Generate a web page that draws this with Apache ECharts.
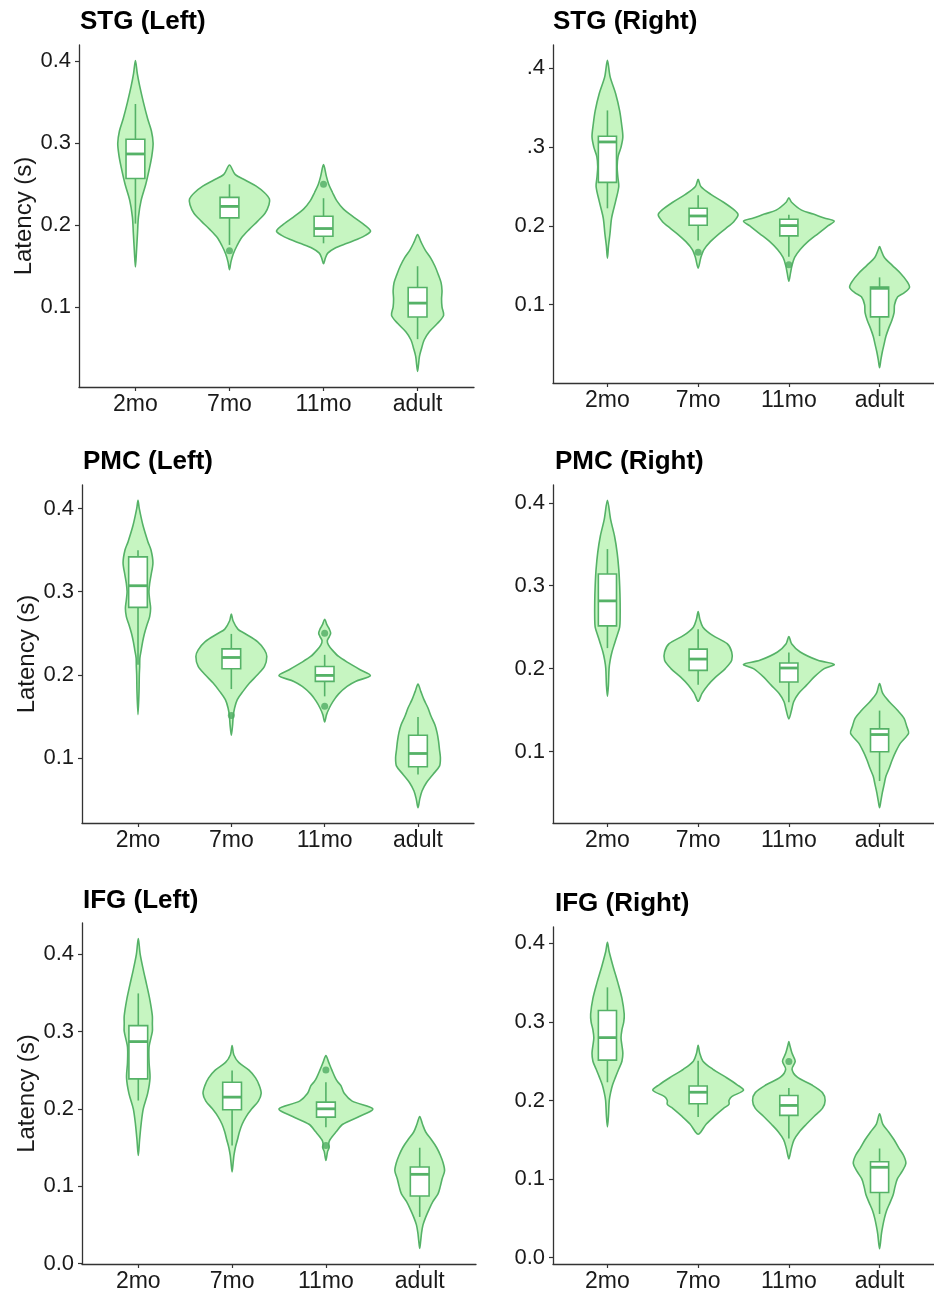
<!DOCTYPE html>
<html>
<head>
<meta charset="utf-8">
<script src="https://cdn.jsdelivr.net/npm/echarts@6/dist/echarts.min.js"></script>
<style>
html, body { margin: 0; padding: 0; background: #fff; }
#main { width: 934px; height: 1294px; }
</style>
</head>
<body>
<div id="main"></div>
<script>
// categories and panel titles
var groups = ['2mo', '7mo', '11mo', 'adult'];
var panelTitles = ['STG (Left)', 'STG (Right)', 'PMC (Left)', 'PMC (Right)', 'IFG (Left)', 'IFG (Right)'];

// y tick values / labels (the STG right panel has its leading zeros cut off)
var ticksA = [0.1, 0.2, 0.3, 0.4];
var ticksB = [0, 0.1, 0.2, 0.3, 0.4];
var labelsA = ['0.1', '0.2', '0.3', '0.4'];
var labelsStgRight = ['0.1', '0.2', '.3', '.4'];
var labelsB = ['0.0', '0.1', '0.2', '0.3', '0.4'];

// box stats per group: [lower whisker, q1, median, q3, upper whisker]
// violin outlines per group: [latency, half width in category units]
// outliers: [group index, latency]

var stgLeftBoxes = [
    [0.202, 0.257, 0.287, 0.305, 0.348],
    [0.176, 0.209, 0.223, 0.234, 0.250],
    [0.178, 0.1865, 0.196, 0.211, 0.233],
    [0.061, 0.088, 0.105, 0.124, 0.150]
];
var stgLeftOutliers = [[1, 0.169], [2, 0.250]];
var stgLeftViolins = [
    [[0.149, 0], [0.17, 0.012], [0.19, 0.022], [0.21, 0.032], [0.23, 0.06], [0.25, 0.11], [0.27, 0.15], [0.285, 0.175], [0.30, 0.188], [0.315, 0.17], [0.33, 0.13], [0.35, 0.085], [0.37, 0.045], [0.385, 0.02], [0.401, 0]],
    [[0.1457, 0], [0.155, 0.015], [0.165, 0.04], [0.175, 0.08], [0.185, 0.13], [0.195, 0.21], [0.205, 0.3], [0.215, 0.38], [0.225, 0.42], [0.232, 0.425], [0.24, 0.37], [0.248, 0.28], [0.255, 0.17], [0.262, 0.06], [0.2735, 0]],
    [[0.153, 0], [0.16, 0.02], [0.166, 0.045], [0.172, 0.12], [0.178, 0.25], [0.183, 0.36], [0.188, 0.45], [0.193, 0.5], [0.20, 0.44], [0.21, 0.32], [0.22, 0.21], [0.23, 0.14], [0.24, 0.095], [0.25, 0.055], [0.26, 0.03], [0.274, 0]],
    [[0.0216, 0], [0.03, 0.01], [0.04, 0.02], [0.05, 0.043], [0.06, 0.07], [0.07, 0.125], [0.08, 0.21], [0.09, 0.277], [0.10, 0.26], [0.11, 0.255], [0.12, 0.26], [0.13, 0.25], [0.14, 0.22], [0.15, 0.185], [0.16, 0.14], [0.17, 0.08], [0.18, 0.035], [0.1886, 0]]
];

var stgRightBoxes = [
    [0.2223, 0.2552, 0.3065, 0.3137, 0.3465],
    [0.1815, 0.2008, 0.2126, 0.2223, 0.239],
    [0.161, 0.1874, 0.2004, 0.2084, 0.214],
    [0.0602, 0.0846, 0.1208, 0.1225, 0.1347]
];
var stgRightOutliers = [[1, 0.1667], [2, 0.1507]];
var stgRightViolins = [
    [[0.159, 0], [0.175, 0.012], [0.19, 0.028], [0.21, 0.046], [0.232, 0.092], [0.25, 0.125], [0.262, 0.115], [0.275, 0.107], [0.288, 0.117], [0.30, 0.15], [0.313, 0.17], [0.33, 0.155], [0.346, 0.135], [0.368, 0.09], [0.389, 0.03], [0.41, 0]],
    [[0.1465, 0], [0.16, 0.03], [0.17, 0.064], [0.18, 0.135], [0.19, 0.23], [0.20, 0.34], [0.205, 0.39], [0.214, 0.44], [0.22, 0.40], [0.23, 0.28], [0.24, 0.14], [0.25, 0.03], [0.259, 0]],
    [[0.1297, 0], [0.14, 0.018], [0.15, 0.035], [0.16, 0.064], [0.17, 0.125], [0.18, 0.21], [0.19, 0.32], [0.20, 0.43], [0.206, 0.5], [0.21, 0.39], [0.215, 0.27], [0.22, 0.14], [0.23, 0.03], [0.2358, 0]],
    [[0.0202, 0], [0.03, 0.014], [0.04, 0.03], [0.05, 0.05], [0.06, 0.07], [0.07, 0.10], [0.08, 0.135], [0.09, 0.16], [0.10, 0.165], [0.11, 0.2], [0.115, 0.27], [0.122, 0.33], [0.13, 0.30], [0.14, 0.23], [0.15, 0.14], [0.16, 0.053], [0.17, 0.014], [0.1739, 0]]
];

var pmcLeftBoxes = [
    [0.212, 0.2812, 0.3072, 0.342, 0.350],
    [0.1828, 0.2072, 0.2208, 0.2312, 0.2492],
    [0.174, 0.192, 0.1992, 0.210, 0.224],
    [0.080, 0.0892, 0.1052, 0.1272, 0.1492]
];
var pmcLeftOutliers = [[1, 0.1508], [2, 0.250], [2, 0.162]];
var pmcLeftViolins = [
    [[0.152, 0], [0.18, 0.011], [0.20, 0.014], [0.21, 0.018], [0.22, 0.02], [0.23, 0.035], [0.24, 0.05], [0.25, 0.07], [0.26, 0.096], [0.27, 0.125], [0.28, 0.135], [0.29, 0.125], [0.30, 0.117], [0.31, 0.125], [0.32, 0.14], [0.335, 0.16], [0.35, 0.14], [0.36, 0.107], [0.38, 0.053], [0.40, 0.014], [0.41, 0]],
    [[0.1272, 0], [0.14, 0.014], [0.15, 0.02], [0.16, 0.035], [0.17, 0.064], [0.18, 0.125], [0.19, 0.195], [0.20, 0.28], [0.21, 0.355], [0.222, 0.38], [0.23, 0.355], [0.24, 0.28], [0.25, 0.14], [0.255, 0.07], [0.265, 0.018], [0.2732, 0]],
    [[0.1432, 0], [0.152, 0.02], [0.16, 0.05], [0.168, 0.09], [0.177, 0.15], [0.186, 0.24], [0.192, 0.33], [0.199, 0.49], [0.206, 0.38], [0.214, 0.26], [0.222, 0.15], [0.23, 0.08], [0.236, 0.04], [0.241, 0.028], [0.246, 0.05], [0.25, 0.064], [0.255, 0.05], [0.26, 0.025], [0.2668, 0]],
    [[0.04, 0], [0.05, 0.018], [0.06, 0.043], [0.07, 0.09], [0.08, 0.16], [0.09, 0.23], [0.10, 0.24], [0.11, 0.23], [0.12, 0.22], [0.13, 0.205], [0.14, 0.18], [0.15, 0.14], [0.16, 0.107], [0.17, 0.064], [0.18, 0.03], [0.1888, 0]]
];

var pmcRightBoxes = [
    [0.2247, 0.2516, 0.2817, 0.3142, 0.3442],
    [0.1806, 0.1978, 0.2115, 0.2235, 0.2476],
    [0.1593, 0.1838, 0.2007, 0.2067, 0.2195],
    [0.0643, 0.0996, 0.1204, 0.1272, 0.1493]
];
var pmcRightOutliers = [];
var pmcRightViolins = [
    [[0.1665, 0], [0.18, 0.011], [0.20, 0.018], [0.21, 0.03], [0.22, 0.05], [0.23, 0.078], [0.24, 0.107], [0.25, 0.135], [0.26, 0.14], [0.28, 0.14], [0.30, 0.135], [0.32, 0.125], [0.34, 0.107], [0.36, 0.078], [0.38, 0.035], [0.403, 0]],
    [[0.1605, 0], [0.17, 0.043], [0.18, 0.107], [0.19, 0.195], [0.20, 0.30], [0.21, 0.37], [0.22, 0.37], [0.23, 0.32], [0.24, 0.16], [0.25, 0.053], [0.26, 0.018], [0.2688, 0]],
    [[0.1393, 0], [0.15, 0.03], [0.16, 0.053], [0.17, 0.107], [0.18, 0.195], [0.19, 0.28], [0.20, 0.39], [0.205, 0.5], [0.21, 0.32], [0.22, 0.125], [0.23, 0.03], [0.2388, 0]],
    [[0.0322, 0], [0.04, 0.014], [0.05, 0.03], [0.06, 0.05], [0.07, 0.07], [0.08, 0.107], [0.09, 0.14], [0.10, 0.18], [0.11, 0.23], [0.122, 0.32], [0.13, 0.30], [0.14, 0.27], [0.15, 0.195], [0.16, 0.107], [0.17, 0.035], [0.1818, 0]]
];

var ifgLeftBoxes = [
    [0.2107, 0.2387, 0.2869, 0.3075, 0.3492],
    [0.1527, 0.1987, 0.2151, 0.2344, 0.2495],
    [0.1763, 0.1892, 0.200, 0.2086, 0.2344],
    [0.0602, 0.0873, 0.1153, 0.1247, 0.1497]
];
var ifgLeftOutliers = [[2, 0.2503], [2, 0.1527]];
var ifgLeftViolins = [
    [[0.1398, 0], [0.16, 0.014], [0.18, 0.03], [0.20, 0.053], [0.22, 0.10], [0.24, 0.125], [0.26, 0.115], [0.28, 0.115], [0.30, 0.15], [0.31, 0.15], [0.32, 0.15], [0.34, 0.125], [0.36, 0.09], [0.38, 0.053], [0.40, 0.02], [0.4202, 0]],
    [[0.1183, 0], [0.13, 0.011], [0.14, 0.02], [0.15, 0.035], [0.16, 0.057], [0.17, 0.078], [0.18, 0.107], [0.19, 0.15], [0.20, 0.21], [0.21, 0.28], [0.22, 0.31], [0.23, 0.29], [0.24, 0.25], [0.25, 0.18], [0.26, 0.07], [0.27, 0.018], [0.2817, 0]],
    [[0.1333, 0], [0.145, 0.018], [0.15, 0.035], [0.155, 0.03], [0.16, 0.043], [0.17, 0.107], [0.18, 0.18], [0.19, 0.355], [0.20, 0.5], [0.21, 0.28], [0.22, 0.195], [0.23, 0.16], [0.235, 0.125], [0.24, 0.10], [0.25, 0.064], [0.26, 0.03], [0.2688, 0]],
    [[0.0194, 0], [0.03, 0.011], [0.04, 0.02], [0.05, 0.035], [0.06, 0.064], [0.07, 0.10], [0.08, 0.14], [0.09, 0.195], [0.10, 0.22], [0.11, 0.24], [0.12, 0.265], [0.13, 0.25], [0.14, 0.22], [0.15, 0.18], [0.16, 0.125], [0.17, 0.064], [0.18, 0.03], [0.1901, 0]]
];

var ifgRightBoxes = [
    [0.2232, 0.2514, 0.280, 0.3145, 0.344],
    [0.179, 0.1958, 0.2105, 0.2185, 0.2505],
    [0.1516, 0.1811, 0.1937, 0.2063, 0.216],
    [0.0556, 0.0829, 0.115, 0.1221, 0.1389]
];
var ifgRightOutliers = [[2, 0.2497]];
var ifgRightViolins = [
    [[0.1663, 0], [0.18, 0.011], [0.20, 0.02], [0.21, 0.035], [0.22, 0.057], [0.23, 0.09], [0.24, 0.125], [0.25, 0.16], [0.26, 0.17], [0.27, 0.16], [0.28, 0.15], [0.29, 0.16], [0.30, 0.18], [0.31, 0.185], [0.33, 0.16], [0.35, 0.115], [0.37, 0.064], [0.39, 0.018], [0.4013, 0]],
    [[0.157, 0], [0.16, 0.03], [0.17, 0.09], [0.18, 0.18], [0.19, 0.28], [0.195, 0.34], [0.20, 0.34], [0.205, 0.37], [0.213, 0.5], [0.22, 0.43], [0.23, 0.30], [0.24, 0.16], [0.25, 0.053], [0.26, 0.018], [0.2703, 0]],
    [[0.1255, 0], [0.13, 0.011], [0.14, 0.03], [0.15, 0.057], [0.16, 0.115], [0.17, 0.195], [0.18, 0.28], [0.19, 0.37], [0.20, 0.40], [0.21, 0.37], [0.22, 0.25], [0.23, 0.09], [0.24, 0.035], [0.25, 0.07], [0.26, 0.035], [0.27, 0.011], [0.275, 0]],
    [[0.0114, 0], [0.02, 0.011], [0.03, 0.02], [0.04, 0.035], [0.05, 0.053], [0.06, 0.078], [0.07, 0.115], [0.08, 0.15], [0.09, 0.17], [0.10, 0.195], [0.11, 0.25], [0.12, 0.29], [0.13, 0.265], [0.14, 0.21], [0.15, 0.16], [0.16, 0.10], [0.17, 0.035], [0.1832, 0]]
];

var panels = [
    { violins: stgLeftViolins, boxes: stgLeftBoxes, outliers: stgLeftOutliers, ticks: ticksA, labels: labelsA },
    { violins: stgRightViolins, boxes: stgRightBoxes, outliers: stgRightOutliers, ticks: ticksA, labels: labelsStgRight },
    { violins: pmcLeftViolins, boxes: pmcLeftBoxes, outliers: pmcLeftOutliers, ticks: ticksA, labels: labelsA },
    { violins: pmcRightViolins, boxes: pmcRightBoxes, outliers: pmcRightOutliers, ticks: ticksA, labels: labelsA },
    { violins: ifgLeftViolins, boxes: ifgLeftBoxes, outliers: ifgLeftOutliers, ticks: ticksB, labels: labelsB },
    { violins: ifgRightViolins, boxes: ifgRightBoxes, outliers: ifgRightOutliers, ticks: ticksB, labels: labelsB }
];

// panel placement in the composite image
var grids = [
    { left: 79, top: 45, width: 395, height: 342 },
    { left: 553, top: 45, width: 392, height: 338 },
    { left: 82, top: 485, width: 392, height: 338 },
    { left: 553, top: 485, width: 392, height: 338 },
    { left: 82, top: 923, width: 394, height: 341 },
    { left: 553, top: 927, width: 392, height: 337 }
];
var titlePos = [[80, 9], [553, 9], [83, 449], [555, 449], [83, 888], [555, 891]];

var FONT = 'Liberation Sans, Arial, sans-serif';
var FILL = '#c6f5c1';
var EDGE = '#55b267';
var INK = '#1a1a1a';

function violinRender(outlines) {
    return function (params, api) {
        var g = params.dataIndex;
        var pts = outlines[g];
        var right = pts.map(function (p) { return api.coord([g + p[1], p[0]]); });
        var left = pts.slice().reverse().map(function (p) { return api.coord([g - p[1], p[0]]); });
        return {
            type: 'polygon',
            shape: { points: right.concat(left.slice(1, -1)), smooth: 0.3 },
            style: { fill: FILL, stroke: EDGE, lineWidth: 1.6 }
        };
    };
}

function boxRender(boxes) {
    return function (params, api) {
        var g = params.dataIndex;
        var b = boxes[g];
        var hw = 0.1;
        var tl = api.coord([g - hw, b[3]]);
        var br = api.coord([g + hw, b[1]]);
        function seg(x1, y1, x2, y2, w) {
            var a = api.coord([x1, y1]), c = api.coord([x2, y2]);
            return { type: 'line', shape: { x1: a[0], y1: a[1], x2: c[0], y2: c[1] }, style: { stroke: EDGE, lineWidth: w } };
        }
        return {
            type: 'group',
            children: [
                seg(g, b[3], g, b[4], 1.6),
                seg(g, b[0], g, b[1], 1.6),
                { type: 'rect', shape: { x: tl[0], y: tl[1], width: br[0] - tl[0], height: br[1] - tl[1] }, style: { fill: '#fff', stroke: EDGE, lineWidth: 1.6 } },
                seg(g - hw, b[2], g + hw, b[2], 2.8)
            ]
        };
    };
}

function yRange(violins) {
    var lo = Infinity, hi = -Infinity;
    violins.forEach(function (v) {
        v.forEach(function (p) { lo = Math.min(lo, p[0]); hi = Math.max(hi, p[0]); });
    });
    var pad = (hi - lo) * 0.05;
    return [lo - pad, hi + pad];
}

var option = { animation: false, title: [], grid: [], xAxis: [], yAxis: [], series: [] };

panels.forEach(function (p, i) {
    var r = yRange(p.violins);
    option.title.push({
        text: panelTitles[i], left: titlePos[i][0], top: titlePos[i][1], padding: 0,
        textStyle: { fontFamily: FONT, fontSize: 26, fontWeight: 'bold', color: '#000' }
    });
    option.grid.push(grids[i]);
    option.xAxis.push({
        type: 'value', gridIndex: i, min: -0.6, max: 3.6,
        splitLine: { show: false },
        axisLine: { onZero: false, lineStyle: { color: '#333', width: 1.3 } },
        axisTick: { customValues: [0, 1, 2, 3], length: 4, lineStyle: { color: '#333', width: 1.2 } },
        axisLabel: {
            customValues: [0, 1, 2, 3], margin: 6, fontFamily: FONT, fontSize: 23, color: INK,
            formatter: function (v) { return groups[Math.round(v)]; }
        }
    });
    option.yAxis.push({
        type: 'value', gridIndex: i, min: r[0], max: r[1],
        name: i % 2 === 0 ? 'Latency (s)' : '',
        nameLocation: 'middle', nameGap: 41,
        nameTextStyle: { fontFamily: FONT, fontSize: 24, color: INK },
        splitLine: { show: false },
        axisLine: { show: true, onZero: false, lineStyle: { color: '#333', width: 1.3 } },
        axisTick: { show: true, customValues: p.ticks, length: 4, lineStyle: { color: '#333', width: 1.2 } },
        axisLabel: {
            customValues: p.ticks, margin: 8, fontFamily: FONT, fontSize: 22, color: INK,
            formatter: function (v) {
                var k = p.ticks.findIndex(function (t) { return Math.abs(t - v) < 1e-6; });
                return k < 0 ? '' : p.labels[k];
            }
        }
    });
    option.series.push({
        type: 'custom', xAxisIndex: i, yAxisIndex: i,
        renderItem: violinRender(p.violins),
        data: p.boxes.map(function (b, g) { return [g, b[2]]; }),
        encode: { x: 0, y: 1 }, z: 1, silent: true
    });
    option.series.push({
        type: 'custom', xAxisIndex: i, yAxisIndex: i,
        renderItem: boxRender(p.boxes),
        data: p.boxes.map(function (b, g) { return [g, b[2]]; }),
        encode: { x: 0, y: 1 }, z: 2, silent: true
    });
    option.series.push({
        type: 'scatter', xAxisIndex: i, yAxisIndex: i,
        data: p.outliers, symbolSize: 7, z: 3,
        itemStyle: { color: '#4fac63' }
    });
});

var myChart = echarts.init(document.getElementById('main'));
myChart.setOption(option);
</script>
</body>
</html>
